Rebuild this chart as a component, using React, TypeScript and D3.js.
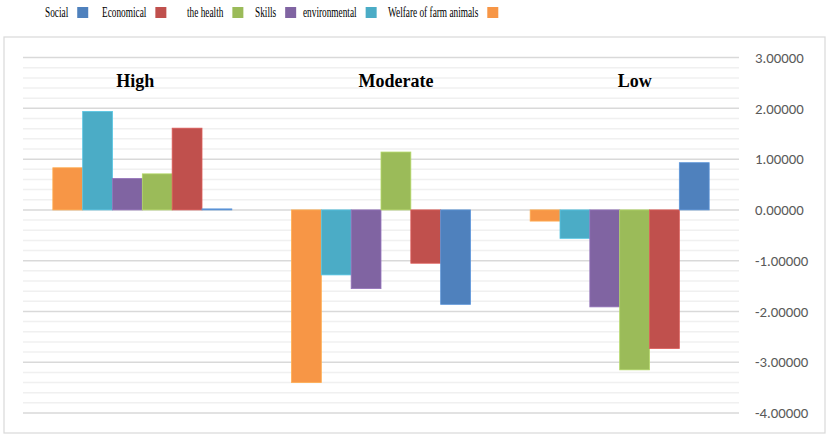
import * as d3 from 'd3';
import React, { useEffect, useRef } from 'react';

// categories along x
const levels = ['High', 'Moderate', 'Low'];

// series in bar order (left to right inside a group)
const seriesNames = ['Welfare of farm animals', 'environmental', 'Skills', 'the health', 'Economical', 'Social'];
const seriesColors = ['#F79646', '#4BACC6', '#8064A2', '#9BBB59', '#C0504D', '#4F81BD'];

// values per series, one per level
const welfareValues = [0.83, -3.4, -0.22];
const environmentalValues = [1.94, -1.28, -0.56];
const skillsValues = [0.62, -1.55, -1.91];
const healthValues = [0.71, 1.14, -3.15];
const economicalValues = [1.61, -1.05, -2.73];
const socialValues = [0.02, -1.86, 0.93];

const seriesValues = [welfareValues, environmentalValues, skillsValues, healthValues, economicalValues, socialValues];

// legend order as in the picture
const legendNames = ['Social', 'Economical', 'the health', 'Skills', 'environmental', 'Welfare of farm animals'];

const yTicks = [3, 2, 1, 0, -1, -2, -3, -4];

export default function App() {
  const ref = useRef<SVGSVGElement>(null);

  useEffect(() => {
    if (!ref.current) return;
    const svg = d3.select(ref.current);
    svg.selectAll('*').remove();

    const left = 23;
    const right = 739;
    const top = 57.6;
    const bottom = 413;

    // chart frame
    svg
      .append('rect')
      .attr('x', 4)
      .attr('y', 37)
      .attr('width', 821)
      .attr('height', 396)
      .attr('fill', '#fff')
      .attr('stroke', '#d9d9d9')
      .attr('stroke-width', 1.2);

    const y = d3.scaleLinear().domain([-4, 3]).range([bottom, top]);
    const x0 = d3.scaleBand().domain(levels).range([left, right]).paddingInner(0.25).paddingOuter(0.125);
    const x1 = d3.scaleBand().domain(seriesNames).range([0, x0.bandwidth()]);
    const color = d3.scaleOrdinal<string, string>().domain(seriesNames).range(seriesColors);

    // minor grid
    const minor = d3.range(-4, 3.001, 0.2).filter(v => Math.abs(v - Math.round(v)) > 0.01);
    svg
      .append('g')
      .selectAll('line')
      .data(minor)
      .enter()
      .append('line')
      .attr('x1', left)
      .attr('x2', right)
      .attr('y1', d => y(d))
      .attr('y2', d => y(d))
      .attr('stroke', '#f0f0f0')
      .attr('stroke-width', 1.5);

    // major grid
    svg
      .append('g')
      .selectAll('line')
      .data(yTicks)
      .enter()
      .append('line')
      .attr('x1', left)
      .attr('x2', right)
      .attr('y1', d => y(d))
      .attr('y2', d => y(d))
      .attr('stroke', '#d9d9d9')
      .attr('stroke-width', 1.5);

    // y labels on the right
    svg
      .append('g')
      .selectAll('text')
      .data(yTicks)
      .enter()
      .append('text')
      .attr('x', 755)
      .attr('y', d => y(d))
      .attr('dy', '0.35em')
      .attr('font-family', 'Carlito, "Liberation Sans", Arial, sans-serif')
      .attr('font-size', 14.8)
      .attr('fill', '#595959')
      .text(d => d.toFixed(5));

    // bars
    const flat = seriesNames.flatMap((name, si) =>
      levels.map((level, li) => ({ name, level, value: seriesValues[si][li] }))
    );
    svg
      .append('g')
      .selectAll('rect')
      .data(flat)
      .enter()
      .append('rect')
      .attr('x', d => (x0(d.level) ?? 0) + (x1(d.name) ?? 0))
      .attr('width', x1.bandwidth())
      .attr('y', d => y(Math.max(0, d.value)))
      .attr('height', d => Math.abs(y(d.value) - y(0)))
      .attr('fill', d => color(d.name))
      .attr('stroke', d => d3.color(color(d.name))!.brighter(0.4).formatHex())
      .attr('stroke-width', 0.8);

    // category labels
    const labelShift = [-7, 15, 15];
    svg
      .append('g')
      .selectAll('text')
      .data(levels)
      .enter()
      .append('text')
      .attr('x', (d, i) => (x0(d) ?? 0) + x0.bandwidth() / 2 + labelShift[i])
      .attr('y', 87)
      .attr('text-anchor', 'middle')
      .attr('font-family', '"Liberation Serif", "Times New Roman", serif')
      .attr('font-weight', 'bold')
      .attr('font-size', 18)
      .attr('fill', '#000')
      .text(d => d);

    // legend: text then colour square
    const legendX = [45, 102, 187, 255, 303, 388];
    const squeeze = 0.6;
    const legend = svg
      .append('g')
      .selectAll('g')
      .data(legendNames)
      .enter()
      .append('g')
      .attr('transform', (d, i) => `translate(${legendX[i]},0)`);
    legend
      .append('text')
      .attr('transform', `scale(${squeeze},1)`)
      .attr('x', 0)
      .attr('y', 17.5)
      .attr('font-family', '"Liberation Serif", "Times New Roman", serif')
      .attr('font-size', 15.5)
      .attr('fill', '#000')
      .text(d => d);
    legend.each(function (d) {
      const g = d3.select(this);
      const w = (g.select('text').node() as SVGTextElement).getComputedTextLength() * squeeze;
      g.append('rect')
        .attr('x', w + 9)
        .attr('y', 7)
        .attr('width', 11)
        .attr('height', 11)
        .attr('fill', color(d));
    });
  }, []);

  return (
    <svg
      ref={ref}
      width={829}
      height={438}
      style={{ position: 'absolute', left: 0, top: 0, display: 'block', background: '#fff' }}
    />
  );
}
